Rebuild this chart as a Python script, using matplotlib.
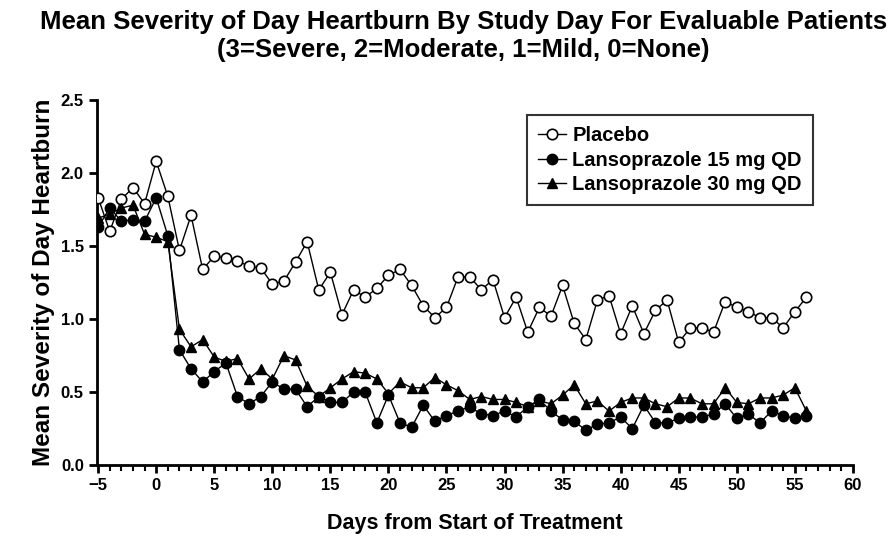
import matplotlib
matplotlib.use("Agg")
import matplotlib.pyplot as plt
import numpy as np
from matplotlib.ticker import MultipleLocator, FormatStrFormatter

plt.rcParams['font.family'] = ['Liberation Sans', 'DejaVu Sans']
plt.rcParams['font.weight'] = 'bold'

days = list(range(-5, 57))

placebo = [1.83, 1.60, 1.82, 1.90, 1.79, 2.08, 1.84, 1.47, 1.71, 1.34,
           1.43, 1.42, 1.40, 1.36, 1.35, 1.24, 1.26, 1.39, 1.53, 1.20,
           1.32, 1.03, 1.20, 1.15, 1.21, 1.30, 1.34, 1.23, 1.09, 1.01,
           1.08, 1.29, 1.29, 1.20, 1.27, 1.01, 1.15, 0.91, 1.08, 1.02,
           1.23, 0.97, 0.86, 1.13, 1.16, 0.90, 1.09, 0.90, 1.06, 1.13,
           0.84, 0.94, 0.94, 0.91, 1.12, 1.08, 1.05, 1.01, 1.01, 0.94,
           1.05, 1.15]

lanso15 = [1.63, 1.76, 1.67, 1.68, 1.67, 1.83, 1.57, 0.79, 0.66, 0.57,
           0.64, 0.70, 0.47, 0.42, 0.47, 0.57, 0.52, 0.52, 0.40, 0.47,
           0.43, 0.43, 0.50, 0.50, 0.29, 0.48, 0.29, 0.26, 0.41, 0.30,
           0.34, 0.37, 0.40, 0.35, 0.34, 0.37, 0.33, 0.40, 0.45, 0.37,
           0.31, 0.30, 0.24, 0.28, 0.29, 0.33, 0.25, 0.41, 0.29, 0.29,
           0.32, 0.33, 0.33, 0.35, 0.42, 0.32, 0.35, 0.29, 0.37, 0.34,
           0.32, 0.34]

lanso30 = [1.69, 1.72, 1.76, 1.78, 1.58, 1.56, 1.53, 0.93, 0.81, 0.86,
           0.74, 0.71, 0.73, 0.59, 0.66, 0.59, 0.75, 0.72, 0.54, 0.47,
           0.53, 0.59, 0.64, 0.63, 0.59, 0.49, 0.57, 0.53, 0.53, 0.60,
           0.55, 0.51, 0.45, 0.47, 0.45, 0.45, 0.43, 0.40, 0.44, 0.42,
           0.48, 0.55, 0.42, 0.44, 0.37, 0.43, 0.46, 0.46, 0.42, 0.40,
           0.46, 0.46, 0.42, 0.42, 0.53, 0.43, 0.42, 0.46, 0.46, 0.48,
           0.53, 0.37]

fig = plt.figure(figsize=(8.94, 5.46), dpi=100)
ax = fig.add_axes([0.1085, 0.148, 0.8455, 0.669])

ax.plot(days, placebo, '-o', color='black', mfc='white', mec='black',
        lw=1, ms=7.5, mew=1.2, label='Placebo', zorder=3)
ax.plot(days, lanso15, '-o', color='black', mfc='black',
        lw=1, ms=7.5, label='Lansoprazole 15 mg QD', zorder=4)
ax.plot(days, lanso30, '-^', color='black', mfc='black',
        lw=1, ms=7.5, label='Lansoprazole 30 mg QD', zorder=4)

ax.set_xlim(-5.1, 60)
ax.set_ylim(0, 2.5)
ax.xaxis.set_major_locator(MultipleLocator(5))
ax.xaxis.set_minor_locator(MultipleLocator(1))
ax.yaxis.set_major_locator(MultipleLocator(0.5))
ax.yaxis.set_major_formatter(FormatStrFormatter('%.1f'))

for side in ['top', 'right']:
    ax.spines[side].set_visible(False)
for side in ['left', 'bottom']:
    ax.spines[side].set_linewidth(2)

ax.tick_params(axis='both', which='major', direction='out', length=6, width=2,
               labelsize=12)
ax.tick_params(axis='x', which='minor', direction='out', length=4, width=1.5)

ax.set_xlabel('Days from Start of Treatment', fontsize=15.5, fontweight='bold',
              labelpad=14)
ax.set_ylabel('Mean Severity of Day Heartburn', fontsize=17.5, fontweight='bold',
              labelpad=4)

fig.text(0.518, 0.982, 'Mean Severity of Day Heartburn By Study Day For Evaluable Patients\n'
         '(3=Severe, 2=Moderate, 1=Mild, 0=None)', ha='center', va='top',
         fontsize=18.5, fontweight='bold', linespacing=1.22)

leg = ax.legend(loc='upper left', bbox_to_anchor=(0.569, 0.959), frameon=True,
                fancybox=False, edgecolor='black', handlelength=1.4,
                handletextpad=0.3, borderpad=0.55, labelspacing=0.28,
                borderaxespad=0, prop={'weight': 'bold', 'size': 14.5})
leg.get_frame().set_linewidth(1.5)

fig.savefig('out.png', dpi=100)
